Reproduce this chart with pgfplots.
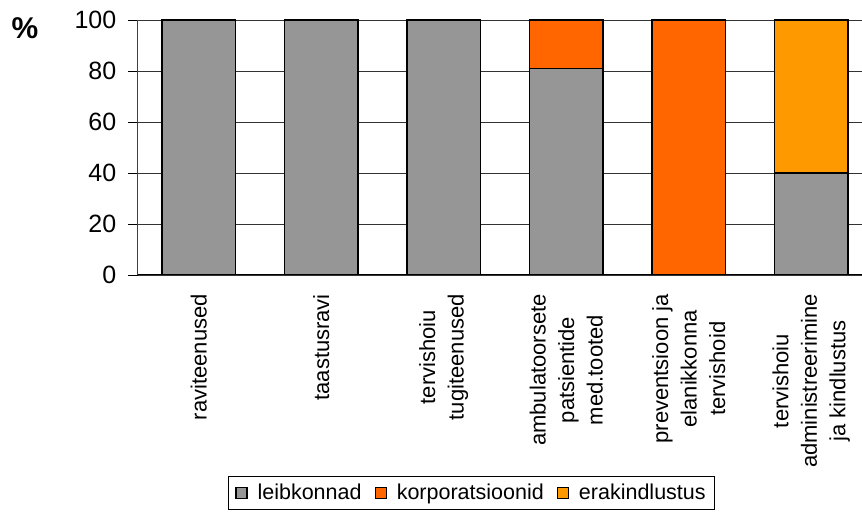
\documentclass[border=0pt]{standalone}
\usepackage{pgfplots}
\pgfplotsset{compat=1.18}
\usepackage{fontspec}
\setmainfont{Liberation Sans}
\definecolor{hhgray}{HTML}{969696}
\definecolor{hhorange}{HTML}{FF6600}
\definecolor{hhamber}{HTML}{FF9900}

\begin{document}
\begin{tikzpicture}[x=1pt,y=1pt]
\useasboundingbox (0,0) rectangle (862,518);
\node[font=\fontsize{30}{34}\selectfont\bfseries] at (25,490) {\%};
\begin{axis}[
  at={(137.5pt,243pt)}, anchor=south west,
  scale only axis, width=724.5pt, height=255pt,
  ybar stacked, bar width=0.6,
  xmin=-0.5, xmax=5.414, ymin=0, ymax=100,
  axis x line*=bottom, axis y line*=left,
  x axis line style={black, line width=1pt},
  y axis line style={black!75, line width=1.6pt},
  ytick={0,20,...,100},
  ymajorgrids,
  major grid style={black!80, line width=0.8pt},
  tick align=outside,
  ytick style={black, line width=0.8pt},
  major tick length=9pt,
  /pgf/number format/assume math mode=true,
  yticklabel style={font=\fontsize{25}{29}\selectfont, inner sep=0pt, xshift=-12pt},
  xtick={0,...,5},
  xticklabels={raviteenused, taastusravi, {tervishoiu\\tugiteenused},
    {ambulatoorsete\\patsientide\\med.tooted},
    {preventsioon ja\\elanikkonna\\tervishoid},
    {tervishoiu\\administreerimine\\ja kindlustus}},
  xtick style={draw=none},
  xticklabel style={font=\fontsize{22}{28.5}\selectfont, rotate=90, anchor=east,
    align=center, inner sep=0pt},
  xticklabel shift=10pt,
  extra x ticks={0.5,1.5,2.5,3.5,4.5},
  extra x tick labels={},
  extra x tick style={major tick length=5pt, tick style={draw=black, line width=0.8pt}, grid=none},
  legend columns=3,
  legend cell align=left,
  legend style={at={(0.1249,-0.788)}, anchor=north west, draw=black,
    line width=0.8pt, font=\fontsize{21.5}{26}\selectfont,
    inner xsep=7pt, inner ysep=6pt,
    /tikz/every odd column/.append style={column sep=8pt},
    /tikz/every even column/.append style={column sep=11pt}},
  legend image code/.code={\draw[#1, draw=black, line width=1.2pt] (0pt,-5.5pt) rectangle (11pt,5.5pt);},
]
% share of each financing source per function, in percent
\addplot[fill=hhgray, draw=black, line width=1.6pt]
  coordinates {(0,100) (1,100) (2,100) (3,81) (4,0) (5,40)};
\addplot[fill=hhorange, draw=black, line width=1.6pt]
  coordinates {(0,0) (1,0) (2,0) (3,19) (4,100) (5,0)};
\addplot[fill=hhamber, draw=black, line width=1.6pt]
  coordinates {(0,0) (1,0) (2,0) (3,0) (4,0) (5,60)};
\legend{leibkonnad, korporatsioonid, erakindlustus}
\end{axis}
\end{tikzpicture}
\end{document}
